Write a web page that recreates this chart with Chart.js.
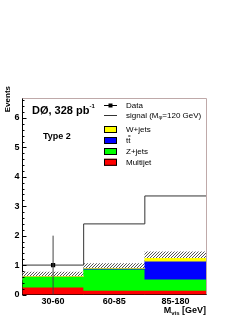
<!DOCTYPE html>
<html>
<head>
<meta charset="utf-8">
<script src="https://cdn.jsdelivr.net/npm/chart.js@4.4.1/dist/chart.umd.min.js"></script>
<style>
  html, body { margin: 0; padding: 0; background: #ffffff; }
  #wrap { width: 247px; height: 319px; position: relative; }
</style>
</head>
<body>
<div id="wrap"><canvas id="c" width="247" height="319"></canvas></div>
<script>
// ---- data ----
const categories = ['30-60', '60-85', '85-180'];
const multijet   = [0.25, 0.14, 0.14];
const zjets      = [0.36, 0.72, 0.38];
const ttbar      = [0.00, 0.03, 0.61];
const wjets      = [0.00, 0.00, 0.10];
const systErr    = [0.15, 0.16, 0.22];
const signal     = [1.00, 2.40, 3.35];
const dataVals   = [1.0];
const dataBins   = [0];        // index of bin holding the data point
const dataErrLo  = [1.0];
const dataErrHi  = [1.0];
const yTicks     = [0, 1, 2, 3, 4, 5, 6];
const yMax       = 6.68;

// ---- build floating stacks from the component arrays ----
const comps = [multijet, zjets, ttbar, wjets];
const cum = [];
let run = categories.map(() => 0);
for (const c of comps) {
  const lo = run.slice();
  run = run.map((v, i) => v + c[i]);
  cum.push(lo.map((l, i) => [l, run[i]]));
}
const totals = run;
const band = totals.map((t, i) => [t - systErr[i], t + systErr[i]]);

// hatch pattern
function hatch() {
  const p = document.createElement('canvas');
  p.width = 3; p.height = 3;
  const g = p.getContext('2d');
  g.fillStyle = '#ffffff'; g.fillRect(0, 0, 3, 3);
  g.fillStyle = '#555555';
  g.fillRect(0, 2, 1, 1); g.fillRect(1, 1, 1, 1); g.fillRect(2, 0, 1, 1);
  return g.createPattern(p, 'repeat');
}

const signalPts = signal.map((v, i) => ({ x: i, y: v }));
signalPts.push({ x: signal.length, y: signal[signal.length - 1] });
const dataPts = dataVals.map((v, i) => ({ x: dataBins[i] + 0.5, y: v }));
const errPts = [];
dataVals.forEach((v, i) => {
  errPts.push({ x: dataBins[i] + 0.5, y: v - dataErrLo[i] });
  errPts.push({ x: dataBins[i] + 0.5, y: v + dataErrHi[i] });
});

const FONT = 'Liberation Sans, Arial, sans-serif';

const decor = {
  id: 'decor',
  afterDraw(chart) {
    const ctx = chart.ctx;
    const a = chart.chartArea;
    const y = chart.scales.y;
    ctx.save();
    // frame top & right
    ctx.strokeStyle = '#bfa9a9';
    ctx.lineWidth = 1;
    ctx.beginPath();
    ctx.moveTo(a.left, a.top + 0.5); ctx.lineTo(a.right + 0.5, a.top + 0.5);
    ctx.lineTo(a.right + 0.5, a.bottom);
    ctx.stroke();
    // inner ticks
    ctx.strokeStyle = '#000';
    ctx.beginPath();
    for (let k = 0; k * 0.2 <= yMax + 1e-6; k++) {
      const v = k * 0.2;
      const py = Math.round(y.getPixelForValue(v)) + 0.5;
      const len = (k % 5 === 0) ? 4 : 2;
      ctx.moveTo(a.left, py); ctx.lineTo(a.left + len, py);
    }
    ctx.stroke();
    // texts
    ctx.fillStyle = '#000';
    ctx.textBaseline = 'alphabetic';
    ctx.font = 'bold 11px ' + FONT;
    ctx.fillText('DØ, 328 pb', 32, 114);
    const w = ctx.measureText('DØ, 328 pb').width;
    ctx.font = 'bold 6px ' + FONT;
    ctx.fillText('-1', 32 + w, 108);
    ctx.font = 'bold 9px ' + FONT;
    ctx.fillText('Type 2', 43, 139);
    // y title
    ctx.save();
    ctx.translate(10, a.top - 12);
    ctx.rotate(-Math.PI / 2);
    ctx.textAlign = 'right';
    ctx.font = 'bold 8px ' + FONT;
    ctx.fillText('Events', 0, 0);
    ctx.restore();
    // x title  M_vis [GeV]
    ctx.font = 'bold 9px ' + FONT;
    const t2 = ' [GeV]';
    const w2 = ctx.measureText(t2).width;
    ctx.font = 'bold 6px ' + FONT;
    const wsub = ctx.measureText('vis').width;
    ctx.font = 'bold 9px ' + FONT;
    const wM = ctx.measureText('M').width;
    let x0 = a.right - (w2 + wsub + wM);
    ctx.fillText('M', x0, 313);
    ctx.font = 'bold 6px ' + FONT;
    ctx.fillText('vis', x0 + wM, 315);
    ctx.font = 'bold 9px ' + FONT;
    ctx.fillText(t2, x0 + wM + wsub, 313);
    // legend
    const lx = 104, lw = 13, tx = 126;
    ctx.font = '8px ' + FONT;
    ctx.textBaseline = 'middle';
    // Data
    let ly = 105.5;
    ctx.strokeStyle = '#000'; ctx.lineWidth = 1;
    ctx.beginPath(); ctx.moveTo(lx, ly); ctx.lineTo(lx + lw, ly); ctx.stroke();
    ctx.fillRect(lx + lw / 2 - 2, ly - 2, 4, 4);
    ctx.fillText('Data', tx, ly);
    // signal
    ly = 115.5;
    ctx.strokeStyle = '#333';
    ctx.beginPath(); ctx.moveTo(lx, ly); ctx.lineTo(lx + lw, ly); ctx.stroke();
    ctx.fillText('signal (M', tx, ly);
    let ws = ctx.measureText('signal (M').width;
    ctx.font = '6px ' + FONT;
    ctx.fillText('φ', tx + ws, ly + 2);
    let wp = ctx.measureText('φ').width;
    ctx.font = '8px ' + FONT;
    ctx.fillText('=120 GeV)', tx + ws + wp, ly);
    const sw = [['W+jets', '#ffff00', 129.5], ['tt', '#0000ff', 140.5],
                ['Z+jets', '#00ff00', 151.5], ['Multijet', '#ff0000', 162.3]];
    for (const [lab, col, yy] of sw) {
      ctx.fillStyle = col;
      ctx.fillRect(lx, yy - 3.5, lw, 7);
      ctx.strokeStyle = '#000';
      ctx.strokeRect(lx + 0.5, yy - 3.5 + 0.5, lw - 1, 6);
      ctx.fillStyle = '#000';
      ctx.fillText(lab, tx, yy);
      if (lab === 'tt') {
        const wt = ctx.measureText('t').width;
        ctx.beginPath();
        ctx.moveTo(tx + wt, yy - 4.5); ctx.lineTo(tx + 2 * wt, yy - 4.5);
        ctx.stroke();
      }
    }
    ctx.restore();
  }
};

new Chart(document.getElementById('c'), {
  type: 'bar',
  data: {
    labels: categories,
    datasets: [
      { type: 'line', label: 'DataErr', xAxisID: 'x2', data: errPts, borderColor: '#444',
        borderWidth: 1, pointRadius: 0, fill: false },
      { type: 'scatter', label: 'Data', xAxisID: 'x2', data: dataPts, pointStyle: 'rect',
        pointRadius: 3, backgroundColor: '#000', borderColor: '#000', borderWidth: 0 },
      { type: 'line', label: 'signal', xAxisID: 'x2', data: signalPts, stepped: true,
        borderColor: '#333', borderWidth: 1, pointRadius: 0, fill: false },
      { label: 'W+jets', data: cum[3], backgroundColor: '#ffff00', grouped: false },
      { label: 'tt', data: cum[2], backgroundColor: '#0000ff', grouped: false },
      { label: 'Z+jets', data: cum[1], backgroundColor: '#00ff00', grouped: false },
      { label: 'Multijet', data: cum[0], backgroundColor: '#ff0000', grouped: false },
      { label: 'syst', data: band, backgroundColor: hatch(), grouped: false }
    ]
  },
  options: {
    responsive: false,
    animation: false,
    events: [],
    layout: { padding: { left: 0, right: 41, top: 98, bottom: 0 } },
    datasets: { bar: { barPercentage: 1, categoryPercentage: 1, borderWidth: 0 } },
    plugins: { legend: { display: false }, tooltip: { enabled: false } },
    scales: {
      x: {
        type: 'category', offset: true,
        grid: { display: false, drawTicks: false },
        border: { display: true, color: '#000', width: 1 },
        ticks: { color: '#000', font: { family: FONT, size: 9, weight: 'bold' }, padding: 2, maxRotation: 0 },
        afterFit(s) { s.height = 24.5; }
      },
      x2: { type: 'linear', min: 0, max: 3, display: false, offset: false, bounds: 'ticks' },
      y: {
        min: 0, max: yMax,
        grid: { display: false, drawTicks: false },
        border: { display: true, color: '#000', width: 1 },
        afterBuildTicks(s) { s.ticks = yTicks.map(v => ({ value: v })); },
        ticks: { color: '#000', font: { family: FONT, size: 9, weight: 'bold' }, padding: 3 },
        afterFit(s) { s.width = 22.5; }
      }
    }
  },
  plugins: [decor]
});
</script>
</body>
</html>
